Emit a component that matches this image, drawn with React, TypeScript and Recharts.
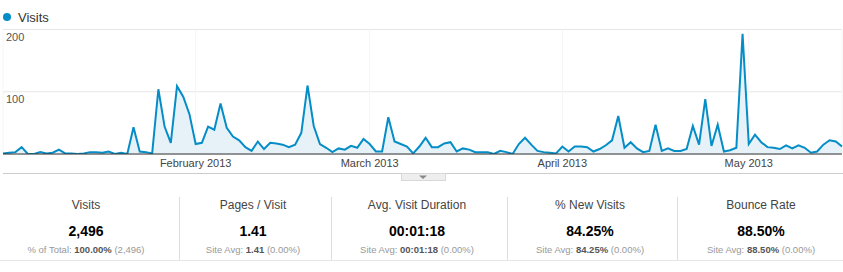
import { AreaChart, Area, XAxis, YAxis, CartesianGrid } from 'recharts';

// daily visits, Jan 1 – May 16 2013
const visits = [
  1, 2, 3, 11, 0, 0, 3, 1, 2, 7, 1, 1, 0, 1, 3, 3, 2, 4, 0, 2, 0, 43, 4, 3,
  1, 104, 44, 18, 109, 92, 64, 16, 18, 44, 39, 81, 42, 28, 22, 11, 5, 20, 8, 18, 17, 15,
  11, 15, 34, 110, 45, 16, 10, 3, 9, 7, 13, 10, 24, 16, 4, 4, 59, 20, 16, 12, 1, 12,
  26, 11, 11, 17, 19, 4, 9, 7, 3, 3, 3, 0, 5, 3, 0, 16, 26, 15, 5, 3, 2, 1,
  12, 4, 12, 12, 11, 4, 8, 14, 22, 61, 10, 19, 9, 3, 5, 47, 5, 9, 5, 5, 8, 45, 15,
  88, 13, 47, 4, 6, 10, 193, 16, 31, 19, 11, 10, 8, 14, 9, 14, 10, 2, 4, 15, 22, 20, 12,
];

const monthTicks = ['2013-02-01', '2013-03-01', '2013-04-01', '2013-05-01'];
const monthLabels = ['February 2013', 'March 2013', 'April 2013', 'May 2013'];
const yTicks = [0, 100, 200];

const metricTitles = ['Visits', 'Pages / Visit', 'Avg. Visit Duration', '% New Visits', 'Bounce Rate'];
const metricValues = ['2,496', '1.41', '00:01:18', '84.25%', '88.50%'];
const subLabels = ['% of Total: ', 'Site Avg: ', 'Site Avg: ', 'Site Avg: ', 'Site Avg: '];
const subValues = ['100.00%', '1.41', '00:01:18', '84.25%', '88.50%'];
const subParens = [' (2,496)', ' (0.00%)', ' (0.00%)', ' (0.00%)', ' (0.00%)'];

const dayKey = (i: number) => {
  const d = new Date(Date.UTC(2013, 0, 1 + i));
  return d.toISOString().slice(0, 10);
};

const data = visits.map((v, i) => ({ day: dayKey(i), visits: v }));

const font = 'Arial, "Liberation Sans", sans-serif';
const blue = '#058dc7';

const colCenters = [86, 253, 417, 590, 761];
const dividers = [179.5, 331.5, 507.5, 677.5];

function MonthTick(props: any) {
  const idx = monthTicks.indexOf(props.payload.value);
  return (
    <text x={props.x} y={167} textAnchor="middle" fontSize={11} fill="#444" fontFamily={font}>
      {monthLabels[idx]}
    </text>
  );
}

function ValueTick(props: any) {
  const v = props.payload.value;
  if (v === 0) return <g />;
  return (
    <text x={6} y={props.y + 11} fontSize={11} fill="#555" fontFamily={font}>
      {v}
    </text>
  );
}

export default function App() {
  return (
    <div style={{ position: 'relative', width: 843, height: 272, background: '#fff', fontFamily: font }}>
      <style>{'body{margin:0}'}</style>
      <AreaChart
        width={843}
        height={174}
        data={data}
        margin={{ top: 29.5, right: 1, bottom: 0, left: 3 }}
        style={{ position: 'absolute', left: 0, top: 0 }}
      >
        <CartesianGrid vertical={false} stroke="#e6e6e6" />
        <CartesianGrid horizontal={false} stroke="#f5f5f5" />
        <XAxis
          dataKey="day"
          ticks={monthTicks}
          interval={0}
          tickLine={false}
          axisLine={{ stroke: '#333', strokeWidth: 1 }}
          tick={<MonthTick />}
          height={20}
        />
        <YAxis
          domain={[0, 200]}
          ticks={yTicks}
          width={30}
          mirror
          axisLine={false}
          tickLine={false}
          tick={<ValueTick />}
          interval={0}
          allowDataOverflow
        />
        <Area
          type="linear"
          dataKey="visits"
          stroke={blue}
          strokeWidth={2}
          fill="#e6f2f8"
          fillOpacity={1}
          dot={false}
          activeDot={false}
          isAnimationActive={false}
        />
      </AreaChart>
      <svg width={843} height={272} style={{ position: 'absolute', left: 0, top: 0, pointerEvents: 'none' }}>
        <circle cx={7} cy={17} r={4} fill={blue} />
        <text x={18} y={21.5} fontSize={13} fill="#333" fontFamily={font}>
          Visits
        </text>
        <line x1={3} x2={843} y1={173.5} y2={173.5} stroke="#ccc" />
        <rect x={401.5} y={173.5} width={44} height={7} fill="#eeeeee" stroke="#d8d8d8" />
        <path d="M419,175.5 L427,175.5 L423,179 Z" fill="#888" />
        {dividers.map((x) => (
          <line key={x} x1={x} x2={x} y1={197} y2={261} stroke="#ddd" />
        ))}
        <line x1={0} x2={843} y1={260.5} y2={260.5} stroke="#e6e6e6" />
        {metricTitles.map((t, i) => (
          <g key={t}>
            <text x={colCenters[i]} y={208.5} textAnchor="middle" fontSize={12} fill="#444" fontFamily={font}>
              {t}
            </text>
            <text x={colCenters[i]} y={236} textAnchor="middle" fontSize={14} fontWeight="bold" fill="#000" fontFamily={font}>
              {metricValues[i]}
            </text>
            <text x={colCenters[i]} y={252.5} textAnchor="middle" fontSize={9.5} fill="#999" fontFamily={font}>
              {subLabels[i]}
              <tspan fontWeight="bold" fill="#555">{subValues[i]}</tspan>
              {subParens[i]}
            </text>
          </g>
        ))}
      </svg>
    </div>
  );
}
